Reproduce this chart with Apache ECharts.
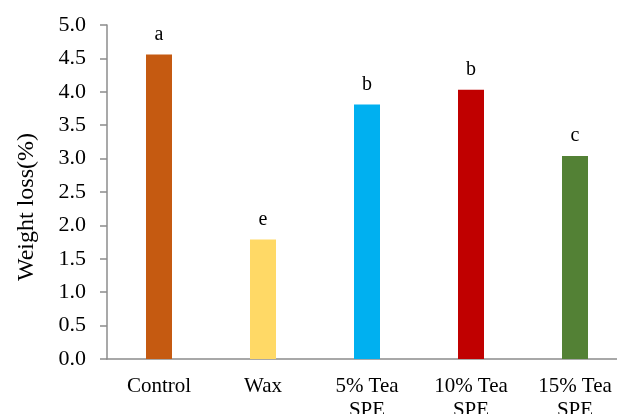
<!DOCTYPE html>
<html><head><meta charset="utf-8">
<script src="https://cdn.jsdelivr.net/npm/echarts@6/dist/echarts.min.js"></script>
<style>html,body{margin:0;padding:0;background:#fff}#c{width:617px;height:414px}</style>
</head><body><div id="c"></div>
<script>
const categories = ['Control', 'Wax', '5% Tea\nSPE', '10% Tea\nSPE', '15% Tea\nSPE'];
const values = [4.56, 1.79, 3.81, 4.03, 3.04];
const letters = ['a', 'e', 'b', 'b', 'c'];
const colors = ['#C55A11', '#FFD966', '#00B0F0', '#C00000', '#538135'];
const yTicks = [0, 0.5, 1, 1.5, 2, 2.5, 3, 3.5, 4, 4.5, 5];

const chart = echarts.init(document.getElementById('c'), null, {renderer: 'canvas'});
const font = '"Liberation Serif", "Times New Roman", serif';
chart.setOption({
  animation: false,
  textStyle: {fontFamily: font},
  grid: {left: 107, right: -10, top: 25, bottom: 55, containLabel: false, outerBoundsMode: 'none'},
  graphic: [{
    type: 'text', x: 27, y: 207, rotation: Math.PI / 2,
    style: {text: 'Weight loss(%)', font: '24px ' + font, fill: '#000', align: 'center', verticalAlign: 'middle'}
  }],
  xAxis: {
    type: 'category', data: categories,
    axisLine: {lineStyle: {color: '#8c8c8c', width: 1.5}},
    axisTick: {show: false},
    axisLabel: {color: '#000', fontSize: 21, fontFamily: font, margin: 15, lineHeight: 24, interval: 0}
  },
  yAxis: {
    type: 'value', min: 0, max: 5, interval: 0.5,
    splitLine: {show: false},
    axisLine: {show: true, lineStyle: {color: '#8c8c8c', width: 1.5}},
    axisTick: {show: true, inside: false, length: 7, lineStyle: {color: '#8c8c8c', width: 1.5}},
    axisLabel: {color: '#000', fontSize: 22, fontFamily: font, margin: 21,
      formatter: v => yTicks.includes(v) ? v.toFixed(1) : ''}
  },
  series: [{
    type: 'bar', barWidth: 26,
    data: values.map((v, i) => ({value: v, itemStyle: {color: colors[i]}})),
    label: {show: true, position: 'top', distance: 10, color: '#000', fontSize: 20, fontFamily: font,
      formatter: p => letters[p.dataIndex]}
  }]
});
</script></body></html>
